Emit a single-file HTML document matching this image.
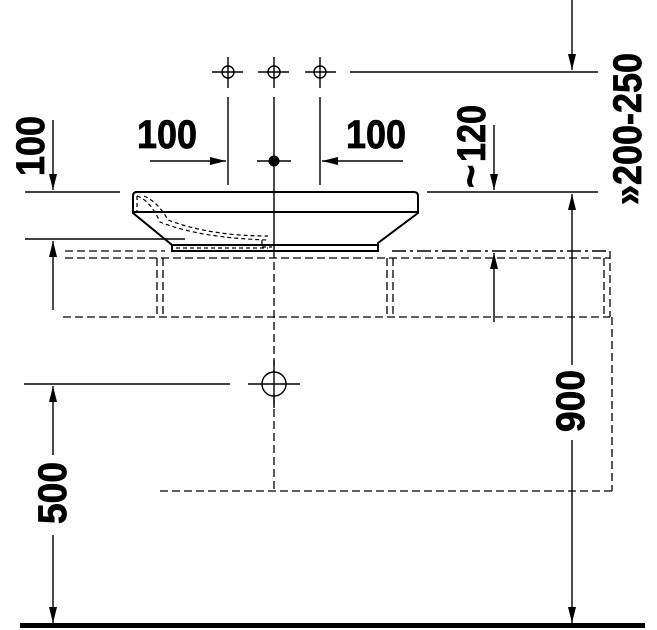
<!DOCTYPE html>
<html><head><meta charset="utf-8"><style>
html,body{margin:0;padding:0;background:#fff;}
svg{display:block;}
text{font-family:"Liberation Sans",sans-serif;font-weight:bold;font-size:40px;fill:#000;stroke:#000;stroke-width:0.8;}
</style></head><body>
<svg width="657" height="630" viewBox="0 0 657 630" xmlns="http://www.w3.org/2000/svg">
<defs>
<marker id="a" viewBox="0 0 16 10" refX="16" refY="5" markerWidth="17" markerHeight="10" markerUnits="userSpaceOnUse" orient="auto"><path d="M0,1 L16,5 L0,9 z" fill="#000"/></marker>
</defs>
<g stroke="#000" stroke-width="1.4" fill="none">
<circle cx="228" cy="72" r="6"/><circle cx="274" cy="72" r="6"/><circle cx="320" cy="72" r="6"/>
<path d="M212,72H243M228,57V88M258,72H289M274,57V88M305,72H336M320,57V88"/>
<path d="M228,97V185M320,97V185M274,97V250"/>
<path d="M150,161H226" marker-end="url(#a)"/>
<path d="M403,161H322" marker-end="url(#a)"/>
<path d="M257,161H291"/>
<path d="M350,72H598"/>
<path d="M572,0V70" marker-end="url(#a)"/>
<path d="M25,192H120M427,192H598M25,239H185"/>
<path d="M392,251H610" stroke-dasharray="14,4,3,4"/>
<path d="M53,120V190" marker-end="url(#a)"/>
<path d="M53,310V241" marker-end="url(#a)"/>
<path d="M494,125V190" marker-end="url(#a)"/>
<path d="M494,322V253" marker-end="url(#a)"/>
<path d="M572,365V194" marker-end="url(#a)"/>
<path d="M572,440V623" marker-end="url(#a)"/>
<path d="M53,455V386" marker-end="url(#a)"/>
<path d="M53,535V623" marker-end="url(#a)"/>
</g>
<g stroke="#000" stroke-width="2" fill="none">
<path d="M135,192H414Q418,192 418,196V213L378,243V251H172V245L133,213V196Q133,192 137,192Z"/>
<path d="M133,212H418M172,245H378"/>
</g>
<g stroke="#000" stroke-width="1.2" fill="none" stroke-dasharray="4,3">
<path d="M137,196V212M137,196Q150,200 160,222Q200,238 268,240"/>
<path d="M144,196Q158,202 168,220Q210,236 268,236"/>
<path d="M176,248H268M262,240V247H272"/>
</g>
<g stroke="#000" stroke-width="1.3" fill="none" stroke-dasharray="8,4">
<path d="M65,258H610M63,317H610"/>
<path d="M65,251H165"/>
<path d="M157,258V317M163,258V317M387,258V317M393,258V317M604,258V317M610,251V317"/>
<path d="M274,250V372M274,397V491M160,491H612M612,317V491"/>
</g>
<g stroke="#000" stroke-width="1.4" fill="none">
<path d="M24,384H230M248,384H300M274,360V408"/>
<circle cx="274" cy="384" r="12"/>
</g>
<circle cx="274" cy="161" r="5.5" fill="#000"/>
<rect x="20" y="623" width="625" height="5" fill="#000"/>
<text x="137" y="148" textLength="60" lengthAdjust="spacingAndGlyphs">100</text>
<text x="346" y="148" textLength="60" lengthAdjust="spacingAndGlyphs">100</text>
<text transform="translate(44,176) rotate(-90)" textLength="60" lengthAdjust="spacingAndGlyphs">100</text>
<text transform="translate(485,162) rotate(-90)" textLength="57" lengthAdjust="spacingAndGlyphs">120</text>
<text transform="translate(484,188) rotate(-90)" font-size="30">~</text>
<text transform="translate(641,205) rotate(-90)" textLength="152" lengthAdjust="spacingAndGlyphs">»200-250</text>
<text transform="translate(584,432) rotate(-90)" textLength="62" lengthAdjust="spacingAndGlyphs">900</text>
<text transform="translate(66,524) rotate(-90)" textLength="62" lengthAdjust="spacingAndGlyphs">500</text>
</svg>
</body></html>
